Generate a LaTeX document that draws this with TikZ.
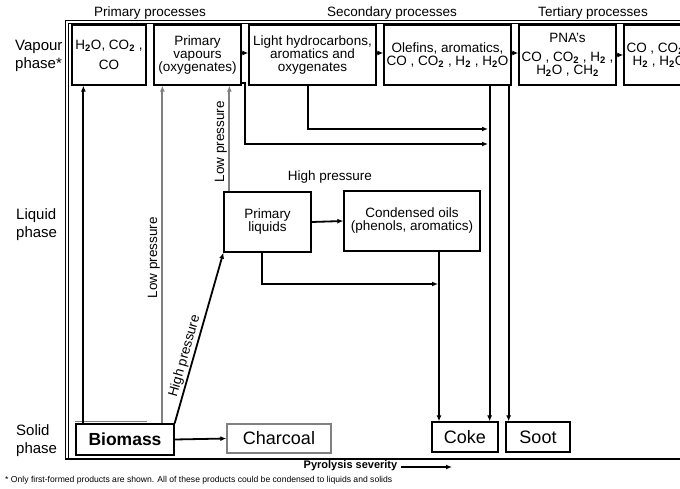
\documentclass[tikz,border=0pt]{standalone}
\usepackage{fontspec}
\setmainfont{Liberation Sans}
\usetikzlibrary{arrows.meta}
\newcommand\sbs[1]{\textsubscript{\textbf{#1}}}
\definecolor{midgray}{RGB}{128,128,128}
\begin{document}
\begin{tikzpicture}[x=1pt,y=-1pt,
  box/.style={draw, line width=1.3pt, align=center, inner sep=1pt, font=\fontsize{13.5}{13}\selectfont},
  arr/.style={line width=1.8pt, -{Latex[length=6pt,width=5pt]}},
  garr/.style={arr, draw=midgray},
  lbl/.style={font=\fontsize{13.5}{14}\selectfont, inner sep=1.5pt},
  phase/.style={font=\fontsize{15}{18}\selectfont, align=left, anchor=west, inner sep=0pt},
  big/.style={draw, line width=1.3pt, font=\fontsize{18}{20}\selectfont, inner sep=0pt},
  frame/.style={line width=0.9pt}]
\clip (0,0) rectangle (680,489);
\fill[white] (0,0) rectangle (680,489);
% frame
\draw[frame] (65.5,459) -- (65.5,20) -- (690,20);
\draw[frame] (68.5,459) -- (68.5,23) -- (690,23);
\draw[line width=1.3pt] (65,459) -- (690,459);
% headers
\node[lbl] (h1) at (150,13) {Primary processes};
\node[lbl] (h2) at (392,13) {Secondary processes};
\node[lbl] (h3) at (593,13) {Tertiary processes};
% phase labels
\node[phase] (pv) at (15,56) {Vapour\\phase*};
\node[phase] (pl) at (16,225) {Liquid\\phase};
\node[phase] (ps) at (16,441) {Solid\\phase};
% vapour boxes
\node[box, minimum width=74, minimum height=60] (B1) at (109,55) {H\sbs{2}O, CO\sbs{2} ,\\[7pt] CO};
\node[box, minimum width=87, minimum height=60] (B2) at (197.5,55) {Primary\\vapours\\(oxygenates)};
\node[box, minimum width=127, minimum height=60] (B3) at (312.5,55) {Light hydrocarbons,\\aromatics and\\oxygenates};
\node[box, minimum width=127, minimum height=60] (B4) at (447.5,55) {Olefins, aromatics,\\CO , CO\sbs{2} , H\sbs{2} , H\sbs{2}O};
\node[box, minimum width=97, minimum height=60] (B5) at (567.5,55) {PNA’s\\[6pt]CO , CO\sbs{2} , H\sbs{2} ,\\H\sbs{2}O , CH\sbs{2}};
\node[box, minimum width=70, minimum height=60] (B6) at (659,55) {CO , CO\sbs{2} ,\\H\sbs{2} , H\sbs{2}O};
% liquid boxes
\node[box, minimum width=87, minimum height=60] (PL) at (267.5,222) {Primary\\liquids};
\node[box, minimum width=136, minimum height=60] (CO) at (412,221) {Condensed oils\\(phenols, aromatics)};
\node[lbl] (hp) at (330,177) {High pressure};
% solid boxes
\node[big, minimum width=98, minimum height=31, font=\fontsize{17.5}{20}\selectfont\bfseries] (Bio) at (125,439.5) {Biomass};
\node[big, draw=midgray, minimum width=104, minimum height=29] (Ch) at (279,438.5) {Charcoal};
\node[big, minimum width=66, minimum height=30] (Coke) at (465,437) {Coke};
\node[big, minimum width=64, minimum height=30] (Soot) at (538,437) {Soot};
\draw[midgray, line width=0.8pt] ([yshift=2pt]Bio.north west) -- ++(72,0);
% coordinates
\coordinate (a1) at ([xshift=8pt]Bio.north west);
\coordinate (a2) at ([xshift=87pt]Bio.north west);
\coordinate (a3) at ([xshift=6pt]PL.north west);
\coordinate (d1) at ([xshift=-22pt]B4.south east);
\coordinate (d2) at ([xshift=-3pt]B4.south east);
\coordinate (d3) at ([xshift=27pt]CO.south);
\coordinate (d4) at ([xshift=-4.5pt]B3.south);
\coordinate (d5) at ([xshift=-5.5pt]PL.south);
\coordinate (e1) at (488,129);
\coordinate (e2) at (488,144);
\coordinate (e3) at (438,284);
% vertical arrows from biomass
\draw[arr] (a1) -- (a1 |- B1.south);
\draw[garr] (a2) -- node[pos=0.49, sloped, above, lbl, text=black] {Low pressure} (a2 |- B2.south);
\draw[garr] (a3) -- node[pos=0.47, sloped, above, lbl, text=black] {Low pressure} (a3 |- B2.south);
\draw[arr] (Bio.north east) -- node[pos=0.38, sloped, above, lbl] {High pressure} (PL.south west);
\draw[arr] (Bio.east) -- (Ch.west);
\draw[arr] (PL.east) -- (CO.west);
% vapour chain
\draw[arr] ([yshift=2pt]B2.east) -- ([yshift=2pt]B3.west);
\draw[arr] ([yshift=2pt]B3.east) -- ([yshift=2pt]B4.west);
\draw[arr] ([yshift=2pt]B4.east) -- ([yshift=2pt]B5.west);
\draw[arr] (B5.east) -- (B6.west);
% to coke / soot
\draw[arr] ([yshift=3pt]B2.south east) -- ++(3.5,0) |- (e2);
\draw[arr] (d4) |- (e1);
\draw[arr] (d1) -- (d1 |- Coke.north);
\draw[arr] (d2) -- (d2 |- Soot.north);
\draw[arr] (d3) -- (d3 |- Coke.north);
\draw[arr] (d5) |- (e3);
% bottom
\node[font=\fontsize{11}{12}\selectfont\bfseries, inner sep=0pt] (sev) at (350.5,466) {Pyrolysis severity};
\coordinate (sevend) at (452,467);
\draw[arr] ([xshift=4pt,yshift=-1pt]sev.east) -- (sevend);
\node[font=\fontsize{8.6}{9}\selectfont, anchor=west, inner sep=0pt] (fn) at (5,480) {* Only first-formed products are shown. All of these products could be condensed to liquids and solids};
\end{tikzpicture}
\end{document}
